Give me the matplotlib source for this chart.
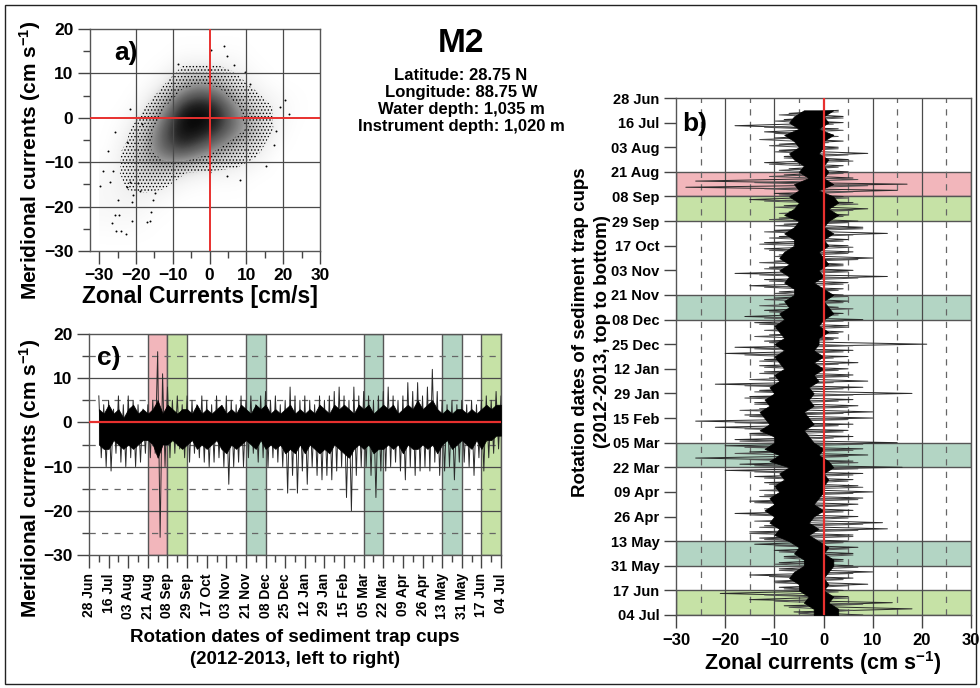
import numpy as np
import matplotlib
matplotlib.use('Agg')
import matplotlib.pyplot as plt
from matplotlib.patches import Rectangle
from matplotlib.ticker import MultipleLocator

plt.rcParams['font.family'] = ['Liberation Sans', 'DejaVu Sans']
plt.rcParams['font.weight'] = 'bold'
plt.rcParams['mathtext.fontset'] = 'custom'
plt.rcParams['mathtext.rm'] = 'Liberation Sans:bold'
plt.rcParams['mathtext.default'] = 'rm'
plt.rcParams['hatch.linewidth'] = 0.6

## ---- data ----
cup_dates = ['28 Jun', '16 Jul', '03 Aug', '21 Aug', '08 Sep', '29 Sep', '17 Oct',
             '03 Nov', '21 Nov', '08 Dec', '25 Dec', '12 Jan', '29 Jan', '15 Feb',
             '05 Mar', '22 Mar', '09 Apr', '26 Apr', '13 May', '31 May', '17 Jun', '04 Jul']

# highlighted cups (index of the first rotation date) and their class
span_start = [3, 4, 8, 14, 18, 20]
span_kind = ['red', 'green', 'teal', 'teal', 'teal', 'green']

# panel a: darkness of the point cloud in 5 cm/s cells (rows y=-30..20, cols x=-30..30)
a_density = [
    [0.00, 0.00, 0.00, 0.00, 0.00, 0.00, 0.00, 0.00, 0.00, 0.00, 0.00, 0.00],
    [0.02, 0.03, 0.01, 0.00, 0.00, 0.00, 0.00, 0.00, 0.00, 0.00, 0.00, 0.00],
    [0.03, 0.06, 0.05, 0.02, 0.00, 0.00, 0.00, 0.00, 0.00, 0.00, 0.00, 0.00],
    [0.02, 0.10, 0.22, 0.20, 0.08, 0.03, 0.02, 0.02, 0.00, 0.00, 0.00, 0.00],
    [0.00, 0.10, 0.35, 0.65, 0.80, 0.60, 0.40, 0.22, 0.10, 0.00, 0.00, 0.00],
    [0.00, 0.03, 0.25, 0.70, 1.00, 1.00, 0.85, 0.55, 0.32, 0.06, 0.00, 0.00],
    [0.00, 0.00, 0.06, 0.40, 0.90, 1.00, 0.88, 0.48, 0.18, 0.06, 0.01, 0.00],
    [0.00, 0.00, 0.00, 0.06, 0.32, 0.48, 0.38, 0.12, 0.03, 0.00, 0.00, 0.00],
    [0.00, 0.00, 0.00, 0.00, 0.02, 0.02, 0.02, 0.02, 0.00, 0.00, 0.00, 0.00],
    [0.00, 0.00, 0.00, 0.00, 0.00, 0.00, 0.00, 0.00, 0.00, 0.00, 0.00, 0.00],
]
# panel a: isolated points outside the cloud
a_out_x = [-8.5, 3.8, 4.7, 6.5, 0.4, 9.7, 11.0, 20.6, 21.5, 19.0, 18.0, 17.5, 15.2, 8.2,
           4.7, 0.2, -27.5, -25.7, -27.0, -26.2, -25.0, -26.6, -25.3, -24.2, -25.7, -24.5,
           -22.5, -21.6, -21.2, -20.7, -21.2, -22.7, -17.1, -16.0, -16.2, -21.6, -18.5,
           -19.5, -18.9, -14.8, -15.3, -22.5, -28.9, -29.8]
a_out_y = [12.2, 16.2, 14.0, 12.0, 15.2, 10.3, 7.5, 4.1, 0.9, 2.4, -3.0, -6.2, -10.9, -13.9,
           -13.2, -12.3, -7.4, -3.2, -14.5, -12.0, -18.5, -23.8, -25.4, -25.6, -22.0, -21.8,
           -5.5, -14.5, -19.0, -17.3, -23.2, -26.2, -23.5, -21.3, -23.2, 2.0, -1.5,
           -14.7, -16.4, -17.0, -18.6, -15.6, -11.9, -15.3]

# panels b and c: values every quarter cup (cup index 0.5 .. 21)
c_hi = [6, 4,
        5, 3, 6, 4,   6, 5, 4, 3,   4, 5, 16, 11,  8, 5, 6, 4,   6, 5, 4, 6,
        5, 4, 6, 3,   6, 5, 4, 6,   5, 6, 4, 6,    7, 5, 6, 4,   5, 8, 6, 5,
        6, 5, 4, 6,   5, 6, 7, 8,   6, 5, 8, 6,    7, 6, 5, 6,   7, 8, 6, 5,
        6, 9, 7, 9,   6, 8, 12, 7,  5, 4, 5, 4,    5, 4, 5, 4,   5, 6, 5, 7,
        6]
c_lo = [-8, -10,
        -11, -7, -9, -10,   -8, -10, -9, -7,    -8, -7, -26, -10,   -8, -7, -6, -8,
        -9, -7, -8, -9,     -10, -9, -8, -10,   -14, -10, -9, -10,  -8, -7, -9, -8,
        -10, -8, -9, -10,   -16, -12, -16, -11, -14, -10, -12, -13, -12, -13, -11, -10,
        -17, -20, -12, -10, -10, -12, -17, -11, -11, -10, -9, -11,  -13, -10, -12, -11,
        -10, -11, -9, -12,  -11, -10, -13, -9,  -9, -10, -12, -8,   -11, -8, -7, -6,
        -5]
c_core_hi = [3, 2,
             4, 2, 3, 1,  3, 4, 2, 3,  2, 3, 5, 2,  4, 3, 2, 3,  3, 2, 4, 2,
             3, 2, 3, 4,  2, 3, 2, 4,  3, 2, 4, 3,  4, 2, 3, 2,  3, 4, 2, 3,
             2, 3, 2, 4,  3, 2, 4, 3,  4, 3, 2, 4,  3, 4, 2, 3,  4, 3, 4, 2,
             3, 4, 3, 5,  3, 4, 5, 3,  2, 3, 2, 3,  3, 2, 3, 2,  3, 4, 3, 4,
             4]
c_core_lo = [-5, -6,
             -6, -4, -5, -6,  -5, -6, -5, -4,  -4, -5, -8, -5,  -5, -4, -5, -6,
             -5, -4, -6, -5,  -6, -5, -4, -6,  -7, -5, -6, -5,  -4, -5, -6, -4,
             -6, -5, -6, -5,  -7, -6, -7, -5,  -7, -5, -6, -7,  -6, -7, -5, -6,
             -7, -8, -6, -5,  -6, -5, -7, -6,  -6, -5, -6, -5,  -7, -5, -6, -6,
             -5, -6, -5, -7,  -5, -4, -6, -5,  -4, -5, -6, -4,  -6, -4, -4, -3,
             -3]

b_hi = [3, 4,
        4, 3, 2, 4,    3, 9, 5, 4,     5, 6, 17, 15,   4, 6, 9, 5,    7, 8, 13, 5,
        5, 6, 10, 4,   6, 13, 5, 4,    4, 5, 3, 4,     8, 5, 4, 3,    21, 6, 5, 7,
        5, 6, 9, 8,    18, 6, 7, 10,   10, 6, 5, 6,    15, 8, 9, 6,   16, 8, 6, 7,
        10, 8, 7, 6,   7, 12, 13, 6,   5, 7, 6, 4,     6, 10, 6, 9,   4, 5, 14, 18,
        8]
b_lo = [-7, -8,
        -18, -12, -10, -9,   -9, -8, -12, -7,    -8, -26, -28, -10,   -15, -8, -7, -9,
        -8, -10, -9, -12,    -12, -9, -10, -11,  -18, -12, -15, -9,   -10, -9, -12, -16,
        -14, -10, -11, -12,  -18, -20, -12, -13, -12, -11, -22, -13,  -15, -14, -13, -16,
        -26, -22, -15, -18,  -20, -15, -26, -17, -20, -14, -12, -10,  -12, -15, -10, -18,
        -10, -12, -15, -13,  -14, -10, -8, -9,   -9, -15, -10, -9,    -21, -15, -8, -6,
        -4]
# typical (not extreme) swings in between the spikes
b_mid_hi = [3, 4,
            2, 4, 3, 1,   3, 5, 6, 3,   4, 7, 9, 6,   5, 7, 6, 4,   5, 8, 6, 4,
            6, 5, 7, 4,   5, 7, 4, 3,   5, 4, 6, 3,   4, 5, 3, 2,   6, 4, 2, 3,
            3, 5, 2, 4,   6, 3, 5, 4,   5, 3, 4, 2,   8, 6, 5, 7,   7, 6, 5, 8,
            6, 7, 5, 4,   5, 8, 7, 6,   4, 5, 6, 4,   7, 6, 4, 5,   3, 5, 8, 6,
            5]
b_mid_lo = [-9, -10,
            -12, -10, -13, -11,  -10, -8, -11, -9,   -11, -14, -12, -9,   -12, -10, -9, -11,
            -10, -12, -11, -13,  -11, -10, -13, -12, -13, -11, -12, -10,  -12, -13, -11, -12,
            -13, -12, -14, -11,  -14, -16, -13, -12, -13, -15, -16, -14,  -16, -14, -17, -15,
            -18, -16, -15, -17,  -16, -18, -15, -14, -14, -12, -11, -13,  -13, -14, -12, -15,
            -14, -13, -15, -12,  -10, -9, -8, -10,   -9, -11, -10, -8,    -12, -10, -7, -5,
            -4]
b_core_lo = [-4, -6,
             -7, -5, -8, -6,     -5, -7, -6, -4,    -5, -3, -6, -5,     -7, -5, -6, -8,
             -5, -6, -8, -6,     -6, -8, -9, -7,    -9, -7, -8, -6,     -6, -8, -7, -9,
             -8, -10, -9, -8,    -10, -8, -10, -9,  -8, -10, -9, -11,   -10, -12, -11, -13,
             -12, -11, -13, -10, -10, -12, -9, -11, -7, -9, -8, -10,    -9, -11, -10, -12,
             -10, -11, -9, -10,  -7, -5, -6, -4,    -4, -6, -7, -5,     -5, -3, -4, -2,
             -2]
b_core_hi = [2, 0,
             1, -1, 2, 0,     0, -1, 1, 0,     1, 0, 2, -1,     2, 3, 1, 3,
             1, 0, 2, 0,      1, -1, 0, 1,     -1, 0, -2, 0,    2, 0, 1, 2,
             0, -1, 1, -1,    -1, -2, 0, -2,   0, -2, -1, -3,   -2, -3, -2, -4,
             -3, -2, -4, -3,  -2, 0, -1, 1,    2, 0, 1, 0,      0, -1, -2, 0,
             -2, -3, -1, -3,  -1, 1, 0, 2,     2, 1, 0, 1,      0, 2, 1, 3,
             3]

## ---- styles ----
W, H = 980, 688
RED = '#e8302e'
GRID = '#4a4a4a'
SPAN_COL = {'red': '#f2b6bb', 'green': '#c6e2a6', 'teal': '#b3d5c4'}


def box(l, t, r, b):
    return [l / W, 1 - b / H, (r - l) / W, (b - t) / H]


def zigzag(start, step, hi, lo):
    # hi/lo envelope drawn as one dense back-and-forth line
    n = len(hi)
    pos = start + step * np.arange(n)
    p = np.repeat(pos, 2)
    p[1::2] += step / 2
    v = np.empty(2 * n)
    v[0::2] = hi
    v[1::2] = lo
    return p, v


def style_axes(ax):
    for s in ax.spines.values():
        s.set_color('#555555')
        s.set_linewidth(1.0)
    ax.tick_params(which='major', direction='out', length=9, width=1, color='#444444')
    ax.tick_params(which='minor', direction='out', length=5, width=1, color='#444444')


fig = plt.figure(figsize=(W / 100, H / 100), dpi=100)
fig.patches.append(Rectangle((5 / W, 4 / H), 971 / W, 679 / H, transform=fig.transFigure,
                             fill=False, edgecolor='#222222', lw=1.0))

## ---- panel a ----
ax = fig.add_axes(box(90, 29, 320, 251))
dens = np.array(a_density)
ax.imshow(dens ** 0.8, origin='lower', extent=(-30, 30, -30, 20), cmap='Greys',
          vmin=0, vmax=1, interpolation='bicubic', aspect='auto', zorder=1)
xc = np.arange(-27.5, 30, 5)
yc = np.arange(-27.5, 20, 5)
ax.contourf(xc, yc, dens, levels=[0.07, 0.45], colors='none', hatches=['.....'], zorder=1.5)
ax.scatter(a_out_x, a_out_y, s=2, c='k', lw=0, zorder=2)
for v in (-20, -10, 10, 20):
    ax.axvline(v, color=GRID, lw=0.9, zorder=3)
for v in (10, -10, -20):
    ax.axhline(v, color=GRID, lw=0.9, zorder=3)
ax.axvline(0, color=RED, lw=1.4, zorder=4)
ax.axhline(0, color=RED, lw=1.4, zorder=4)
ax.set_xlim(-32.5, 30)
ax.set_ylim(-30, 20)
ax.set_xticks(range(-30, 31, 10))
ax.set_yticks(range(-30, 21, 10))
ax.xaxis.set_minor_locator(MultipleLocator(5))
ax.yaxis.set_minor_locator(MultipleLocator(5))
style_axes(ax)
ax.tick_params(labelsize=12.5, pad=3)
ax.text(-26, 14.5, 'a)', fontsize=19, fontweight='bold', va='center')
fig.text(200 / W, 1 - 297 / H, 'Zonal Currents [cm/s]', fontsize=16.5, fontweight='bold',
         ha='center', va='center')
fig.text(30 / W, 1 - 160 / H, 'Meridional currents (cm s$^{-1}$)', fontsize=15,
         fontweight='bold', ha='center', va='center', rotation=90)

## ---- station header ----
fig.text(461 / W, 1 - 44 / H, 'M2', fontsize=24, fontweight='bold', ha='center', va='center')
for i, line in enumerate(['Latitude: 28.75 N', 'Longitude: 88.75 W',
                          'Water depth: 1,035 m', 'Instrument depth: 1,020 m']):
    fig.text(461 / W, 1 - (76 + 16.8 * i) / H, line, fontsize=12, fontweight='bold',
             ha='center', va='center')

## ---- panel c ----
ax = fig.add_axes(box(89, 334, 501, 555))
for s0, kind in zip(span_start, span_kind):
    ax.axvspan(s0, s0 + 1, facecolor=SPAN_COL[kind], edgecolor='#555555', lw=1.0, zorder=0)
for v in (10, -10, -20):
    ax.axhline(v, color=GRID, lw=0.9, zorder=1)
for v in (15, 5, -5, -15, -25):
    ax.axhline(v, color='#666666', lw=0.9, ls=(0, (5, 5)), zorder=1)
px, pv = zigzag(0.5, 0.25, c_hi, c_lo)
ax.plot(px, pv, color='#2a2a2a', lw=0.7, zorder=2)
core_pos = 0.5 + 0.25 * np.arange(len(c_core_hi))
ax.fill_between(core_pos, c_core_lo, c_core_hi, color='black', lw=0.5, zorder=3)
ax.axhline(0, color=RED, lw=1.6, zorder=4)
ax.set_xlim(0, 21)
ax.set_ylim(-30, 20)
ax.set_xticks(range(len(cup_dates)))
ax.set_xticklabels(cup_dates, rotation=90, fontsize=10)
ax.xaxis.set_minor_locator(MultipleLocator(0.5))
ax.set_yticks(range(-30, 21, 10))
ax.yaxis.set_minor_locator(MultipleLocator(5))
style_axes(ax)
ax.tick_params(axis='y', labelsize=12.5, pad=3)
ax.tick_params(axis='x', pad=4)
ax.text(0.4, 14.5, 'c)', fontsize=19, fontweight='bold', va='center')
fig.text(295 / W, 1 - 638 / H, 'Rotation dates of sediment trap cups', fontsize=13.5,
         fontweight='bold', ha='center', va='center')
fig.text(295 / W, 1 - 659 / H, '(2012-2013, left to right)', fontsize=13.5,
         fontweight='bold', ha='center', va='center')
fig.text(30 / W, 1 - 478 / H, 'Meridional currents (cm s$^{-1}$)', fontsize=15,
         fontweight='bold', ha='center', va='center', rotation=90)

## ---- panel b ----
ax = fig.add_axes(box(676, 98, 971, 615))
for s0, kind in zip(span_start, span_kind):
    ax.axhspan(s0, s0 + 1, facecolor=SPAN_COL[kind], edgecolor='#555555', lw=1.0, zorder=0)
for v in (-20, -10, 10, 20):
    ax.axvline(v, color=GRID, lw=0.9, zorder=1)
for v in (-25, -15, -5, 5, 15, 25):
    ax.axvline(v, color='#666666', lw=0.9, ls=(0, (5, 5)), zorder=1)
py, pv = zigzag(0.5, 0.25, b_hi, b_lo)
ax.plot(pv, py, color='#2a2a2a', lw=0.7, zorder=2)
py, pv = zigzag(0.5625, 0.25, b_mid_hi, b_mid_lo)
ax.plot(pv, py, color='#505050', lw=0.7, zorder=2)
core_pos = 0.5 + 0.25 * np.arange(len(b_core_hi))
ax.fill_betweenx(core_pos, b_core_lo, b_core_hi, color='black', lw=0.5, zorder=3)
ax.axvline(0, color=RED, lw=1.6, zorder=4)
ax.set_xlim(-30, 30)
ax.set_ylim(21, 0)
ax.set_yticks(range(len(cup_dates)))
ax.set_yticklabels(cup_dates, fontsize=10.5)
ax.set_xticks(range(-30, 31, 10))
style_axes(ax)
ax.tick_params(axis='x', labelsize=12, pad=4)
ax.tick_params(axis='y', pad=3)
ax.text(-28.8, 1.05, 'b)', fontsize=19, fontweight='bold', va='center')
fig.text(823 / W, 1 - 663 / H, 'Zonal currents (cm s$^{-1}$)', fontsize=15.5,
         fontweight='bold', ha='center', va='center')
fig.text(580 / W, 1 - 332 / H, 'Rotation dates of sediment trap cups', fontsize=13.5,
         fontweight='bold', ha='center', va='center', rotation=90)
fig.text(602 / W, 1 - 332 / H, '(2012-2013, top to bottom)', fontsize=13.5,
         fontweight='bold', ha='center', va='center', rotation=90)

fig.savefig('out.png', dpi=100)
